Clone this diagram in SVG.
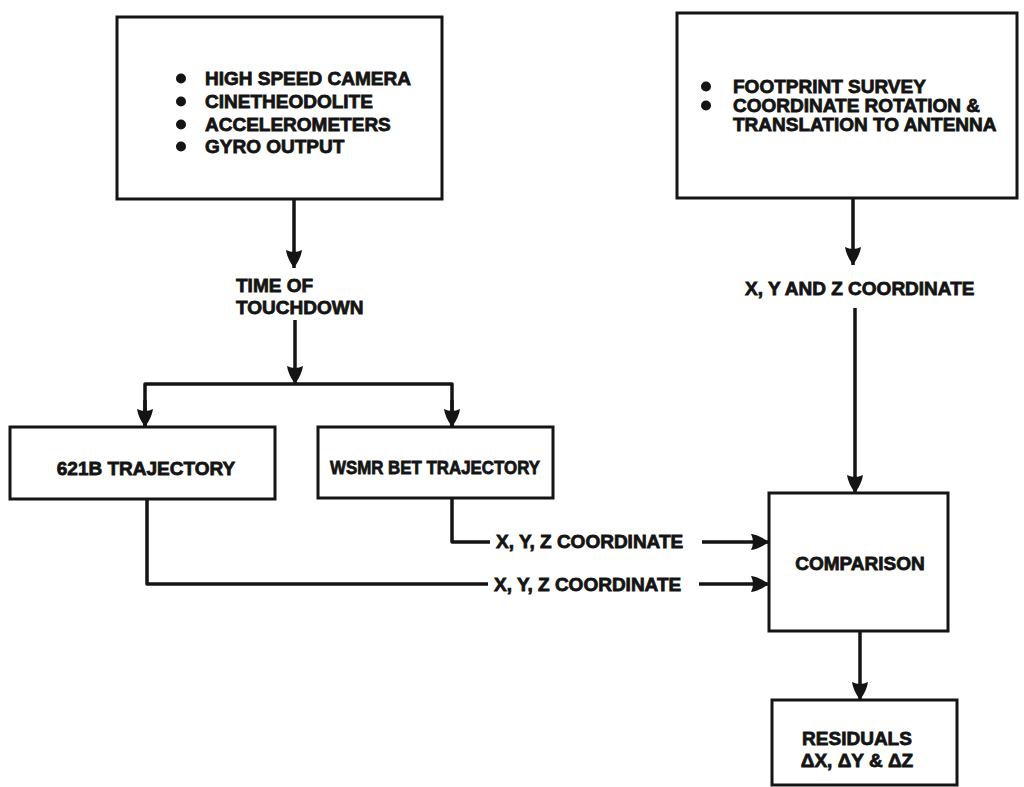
<svg xmlns="http://www.w3.org/2000/svg" width="1024" height="787" viewBox="0 0 1024 787">
  <style>
    .box { fill: #ffffff; stroke: #141414; stroke-width: 3; }
    .wire { fill: none; stroke: #141414; stroke-width: 3.5; stroke-linejoin: round; }
    .lbl { font-family: "Liberation Sans", Arial, Helvetica, sans-serif; font-weight: bold; font-size: 19px; fill: #141414; stroke: #141414; stroke-width: 0.8; }
    .mid { text-anchor: middle; }
    .dot { fill: #141414; }
  </style>
  <defs>
    <marker id="arrow" markerUnits="userSpaceOnUse" markerWidth="20" markerHeight="20" refX="18" refY="9" orient="auto" viewBox="0 0 20 18">
      <path d="M0,1 Q8,2 18,9 Q8,16 0,17 Q4,9 0,1 Z" fill="#141414"/>
    </marker>
  </defs>

  <rect width="1024" height="787" fill="#ffffff"/>

  <!-- measurement sources -->
  <g id="sources">
    <rect class="box" x="117" y="17" width="325" height="182"/>
    <circle class="dot" cx="181" cy="78.5" r="5"/>
    <circle class="dot" cx="181" cy="101.5" r="5"/>
    <circle class="dot" cx="181" cy="124.5" r="5"/>
    <circle class="dot" cx="181" cy="146.5" r="5"/>
    <text class="lbl" x="205" y="85">HIGH SPEED CAMERA</text>
    <text class="lbl" x="205" y="108">CINETHEODOLITE</text>
    <text class="lbl" x="205" y="131">ACCELEROMETERS</text>
    <text class="lbl" x="205" y="153">GYRO OUTPUT</text>
  </g>

  <!-- survey data -->
  <g id="survey">
    <rect class="box" x="677" y="13" width="340" height="185"/>
    <circle class="dot" cx="706" cy="86.5" r="5"/>
    <circle class="dot" cx="706" cy="105.5" r="5"/>
    <text class="lbl" x="733" y="93">FOOTPRINT SURVEY</text>
    <text class="lbl" x="733" y="112">COORDINATE ROTATION &amp;</text>
    <text class="lbl" x="733" y="131">TRANSLATION TO ANTENNA</text>
  </g>

  <g id="touchdown">
    <text class="lbl" x="236" y="292">TIME OF</text>
    <text class="lbl" x="236" y="314">TOUCHDOWN</text>
  </g>

  <g id="survey-coord">
    <text class="lbl" x="745" y="295">X, Y AND Z COORDINATE</text>
  </g>

  <g id="traj-621b">
    <rect class="box" x="10" y="427" width="265" height="72"/>
    <text class="lbl mid" x="146" y="475">621B TRAJECTORY</text>
  </g>

  <g id="traj-wsmr">
    <rect class="box" x="318" y="427" width="235" height="71"/>
    <text class="lbl mid" x="435" y="474" textLength="210" lengthAdjust="spacingAndGlyphs">WSMR BET TRAJECTORY</text>
  </g>

  <g id="comparison">
    <rect class="box" x="769" y="493" width="179" height="138"/>
    <text class="lbl mid" x="860" y="570">COMPARISON</text>
  </g>

  <g id="residuals">
    <rect class="box" x="772" y="700" width="185" height="85"/>
    <text class="lbl mid" x="857" y="745">RESIDUALS</text>
    <text class="lbl mid" x="857" y="767">ΔX, ΔY &amp; ΔZ</text>
  </g>

  <!-- flow lines -->
  <g id="connectors">
    <line class="wire" x1="294" y1="199" x2="294" y2="268" marker-end="url(#arrow)"/>
    <line class="wire" x1="295" y1="320" x2="295" y2="384" marker-end="url(#arrow)"/>
    <path class="wire" d="M145,427 V384 H452 V427"/>
    <line class="wire" x1="145" y1="400" x2="145" y2="427" marker-end="url(#arrow)"/>
    <line class="wire" x1="452" y1="400" x2="452" y2="427" marker-end="url(#arrow)"/>

    <line class="wire" x1="853" y1="198" x2="853" y2="265" marker-end="url(#arrow)"/>
    <line class="wire" x1="855" y1="308" x2="855" y2="493" marker-end="url(#arrow)"/>

    <path class="wire" d="M452,498 V542 H490"/>
    <text class="lbl" x="496" y="548">X, Y, Z COORDINATE</text>
    <line class="wire" x1="702" y1="542" x2="769" y2="542" marker-end="url(#arrow)"/>

    <path class="wire" d="M147,499 V584 H488"/>
    <text class="lbl" x="494" y="591">X, Y, Z COORDINATE</text>
    <line class="wire" x1="699" y1="584" x2="769" y2="584" marker-end="url(#arrow)"/>

    <line class="wire" x1="860" y1="631" x2="860" y2="700" marker-end="url(#arrow)"/>
  </g>
</svg>
